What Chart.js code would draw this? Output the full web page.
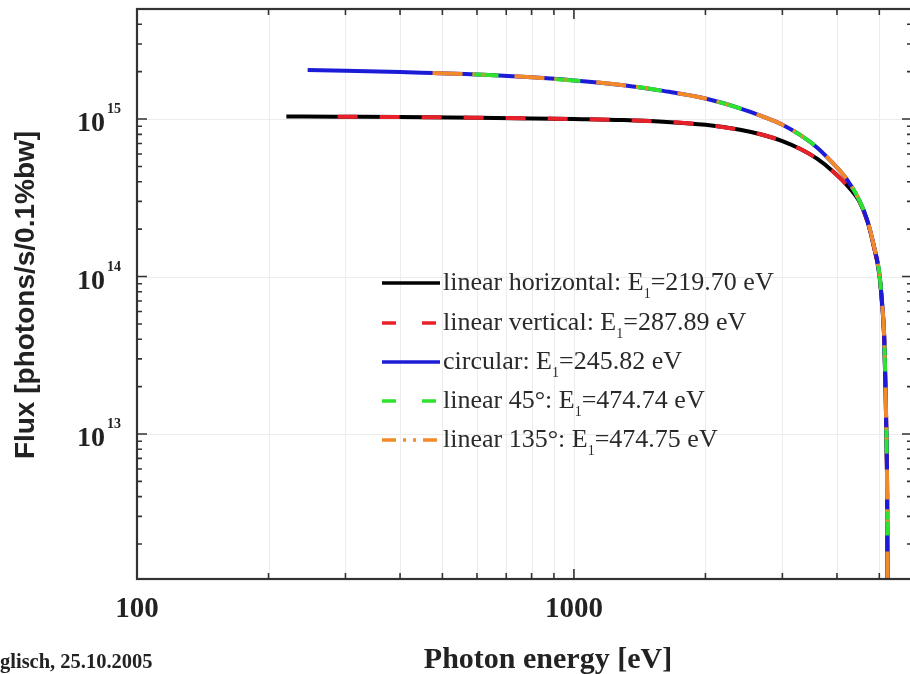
<html>
<head>
<meta charset="utf-8">
<title>Undulator flux</title>
<script src="https://cdn.jsdelivr.net/npm/chart.js@4.4.1/dist/chart.umd.min.js"></script>
<style>
  body { margin: 0; overflow: hidden; background: #fff; }
</style>
</head>
<body>
<canvas id="fluxChart" width="914" height="674"></canvas>

<script>
// polarisation modes and their first-harmonic energies
const modeNames = ['linear horizontal: E', 'linear vertical: E', 'circular: E', 'linear 45°: E', 'linear 135°: E'];
const firstHarmonic = [219.70, 287.89, 245.82, 474.74, 474.75];
const firstHarmonicText = ['219.70', '287.89', '245.82', '474.74', '474.75'];
const modeCurve = ['lower', 'lower', 'upper', 'upper', 'upper'];

// flux curve shared by linear horizontal / vertical
const lowerEnergy = [219.70, 287.89, 400, 600, 800, 1000, 1300, 1600, 2000, 2400, 2700, 3000, 3300, 3600, 3900, 4200, 4500, 4700, 4850, 5000, 5080, 5130, 5170, 5195, 5210, 5222];
const lowerFlux = [1.04e15, 1.035e15, 1.03e15, 1.02e15, 1.01e15, 1.0e15, 0.985e15, 0.962e15, 0.92e15, 0.855e15, 0.795e15, 0.725e15, 0.645e15, 0.56e15, 0.47e15, 0.385e15, 0.30e15, 0.222e15, 0.158e15, 1.03e14, 6.4e13, 4.1e13, 1.78e13, 8.4e12, 4.4e12, 9e11];

// flux curve shared by circular / 45° / 135°
const upperEnergy = [245.82, 300, 400, 474.74, 600, 800, 1000, 1300, 1600, 2000, 2400, 2700, 3000, 3300, 3600, 3900, 4200, 4500, 4700, 4850, 5000, 5080, 5130, 5170, 5195, 5210, 5222];
const upperFlux = [2.05e15, 2.03e15, 1.99e15, 1.96e15, 1.92e15, 1.84e15, 1.76e15, 1.64e15, 1.51e15, 1.35e15, 1.17e15, 1.04e15, 0.92e15, 0.79e15, 0.66e15, 0.53e15, 0.42e15, 0.305e15, 0.225e15, 0.16e15, 1.05e14, 6.5e13, 4.2e13, 1.8e13, 8.5e12, 4.5e12, 9e11];

const xLabelValues = [100, 1000];
const yLabelExponents = [13, 14, 15];

const colors = ['#000000', '#e8202a', '#1c1cd8', '#2ee22e', '#f28a2a'];
const dashes = [[], [20, 22], [], [26, 56], [30, 10, 2, 8, 2, 30]];
const dashOffsets = [0, 0, 0, -40, 0];
const legendDashes = [[], [14, 26], [], [14, 26], [14, 7, 3, 7, 3, 7]];

function curvePoints(which, start) {
  const es = which === 'lower' ? lowerEnergy : upperEnergy;
  const fs = which === 'lower' ? lowerFlux : upperFlux;
  const pts = [];
  for (let i = 0; i < es.length; i++) {
    if (es[i] >= Math.floor(start)) pts.push({x: es[i], y: fs[i]});
  }
  return pts;
}

const datasets = modeNames.map((name, i) => ({
  label: name + '1=' + firstHarmonicText[i] + ' eV',
  data: curvePoints(modeCurve[i], firstHarmonic[i]),
  borderColor: colors[i],
  backgroundColor: colors[i],
  borderWidth: 4,
  borderDash: dashes[i],
  borderDashOffset: dashOffsets[i],
  pointRadius: 0,
  cubicInterpolationMode: 'monotone',
  order: 5 - i
}));

const frameColor = '#333';

const framePlugin = {
  id: 'frame',
  beforeDatasetsDraw(chart) {
    const {ctx, chartArea: a, scales: {x, y}} = chart;
    ctx.save();
    ctx.lineWidth = 1;
    ctx.strokeStyle = '#ececec';
    for (let k = 2; k <= 3; k++) {
      for (let m = 1; m <= 9; m++) {
        const v = m * Math.pow(10, k);
        if (v <= x.min || v >= x.max) continue;
        const px = Math.round(x.getPixelForValue(v)) + 0.5;
        ctx.beginPath(); ctx.moveTo(px, a.top); ctx.lineTo(px, a.bottom); ctx.stroke();
      }
    }
    yLabelExponents.forEach(e => {
      const py = Math.round(y.getPixelForValue(Math.pow(10, e))) + 0.5;
      ctx.beginPath(); ctx.moveTo(a.left, py); ctx.lineTo(a.right, py); ctx.stroke();
    });
    ctx.restore();
  },
  afterDatasetsDraw(chart) {
    const {ctx, chartArea: a, scales: {x, y}} = chart;
    ctx.save();
    ctx.strokeStyle = frameColor;
    ctx.lineWidth = 2.2;
    ctx.strokeRect(a.left, a.top, a.right - a.left, a.bottom - a.top);

    // inward ticks
    ctx.lineWidth = 1.6;
    for (let k = 12; k <= 15; k++) {
      for (let m = 1; m <= 9; m++) {
        const v = m * Math.pow(10, k);
        if (v <= y.min || v >= y.max) continue;
        const py = y.getPixelForValue(v);
        const len = m === 1 ? 10 : 5;
        ctx.beginPath();
        ctx.moveTo(a.left, py); ctx.lineTo(a.left + len, py);
        ctx.moveTo(a.right, py); ctx.lineTo(a.right - len, py);
        ctx.stroke();
      }
    }
    for (let k = 2; k <= 3; k++) {
      for (let m = 1; m <= 9; m++) {
        const v = m * Math.pow(10, k);
        if (v <= x.min || v >= x.max) continue;
        const px = x.getPixelForValue(v);
        const len = m === 1 ? 10 : 6;
        ctx.beginPath();
        ctx.moveTo(px, a.bottom); ctx.lineTo(px, a.bottom - len);
        ctx.moveTo(px, a.top); ctx.lineTo(px, a.top + len);
        ctx.stroke();
      }
    }

    // tick labels
    ctx.fillStyle = '#222';
    ctx.textBaseline = 'alphabetic';
    ctx.font = 'bold 29px "Liberation Serif", serif';
    ctx.textAlign = 'center';
    xLabelValues.forEach(v => ctx.fillText(String(v), x.getPixelForValue(v), 617));

    yLabelExponents.forEach(e => {
      const py = y.getPixelForValue(Math.pow(10, e));
      ctx.font = 'bold 28px "Liberation Serif", serif';
      ctx.textAlign = 'right';
      ctx.fillText('10', 105, py + 12);
      ctx.font = 'bold 14px "Liberation Serif", serif';
      ctx.textAlign = 'left';
      ctx.fillText(String(e), 107, py - 6);
    });

    // axis titles
    ctx.textAlign = 'center';
    ctx.font = 'bold 30px "Liberation Serif", serif';
    ctx.fillText('Photon energy [eV]', 548, 668);

    ctx.save();
    ctx.translate(26, 295);
    ctx.rotate(-Math.PI / 2);
    ctx.textBaseline = 'middle';
    ctx.font = 'bold 28px "Liberation Sans", Arial, sans-serif';
    ctx.fillText('Flux [photons/s/0.1%bw]', 0, 0);
    ctx.restore();

    // footnote
    ctx.textAlign = 'left';
    ctx.font = 'bold 20.5px "Liberation Serif", serif';
    ctx.fillText('glisch, 25.10.2005', 0, 668);

    // legend inside the plot
    const rowY = [283, 323, 362, 401, 440];
    chart.data.datasets.forEach((ds, i) => {
      const ly = rowY[i];
      ctx.save();
      ctx.strokeStyle = ds.borderColor;
      ctx.lineWidth = 3.5;
      ctx.setLineDash(legendDashes[i]);
      ctx.beginPath(); ctx.moveTo(382, ly); ctx.lineTo(440, ly); ctx.stroke();
      ctx.restore();

      ctx.fillStyle = '#2a2a2a';
      ctx.textAlign = 'left';
      ctx.font = '26px "Liberation Serif", serif';
      let tx = 443;
      ctx.fillText(modeNames[i], tx, ly + 7);
      tx += ctx.measureText(modeNames[i]).width;
      ctx.font = '14px "Liberation Serif", serif';
      ctx.fillText('1', tx, ly + 15);
      tx += ctx.measureText('1').width;
      ctx.font = '26px "Liberation Serif", serif';
      ctx.fillText('=' + firstHarmonicText[i] + ' eV', tx, ly + 7);
    });
    ctx.restore();
  }
};

new Chart(document.getElementById('fluxChart'), {
  type: 'line',
  data: { datasets },
  options: {
    responsive: false,
    animation: false,
    layout: { padding: { left: 137, top: 9, right: 2, bottom: 95 } },
    plugins: { legend: { display: false }, tooltip: { enabled: false } },
    scales: {
      x: { type: 'logarithmic', min: 100, max: 5940, display: false },
      y: { type: 'logarithmic', min: 1.2e12, max: 5e15, display: false }
    }
  },
  plugins: [framePlugin]
});
</script>
</body>
</html>
